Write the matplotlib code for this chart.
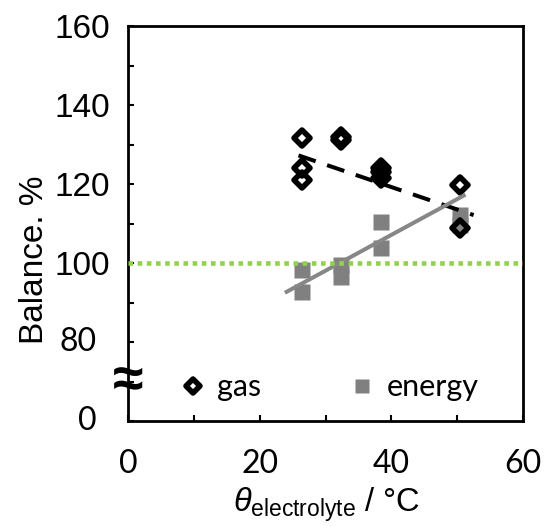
import numpy as np
import matplotlib.pyplot as plt
from matplotlib.markers import MarkerStyle

plt.rcParams['font.family'] = ['Liberation Sans', 'DejaVu Sans']
plt.rcParams['mathtext.fontset'] = 'custom'
plt.rcParams['mathtext.rm'] = 'Liberation Sans'
plt.rcParams['mathtext.it'] = 'Liberation Sans:italic'

# data
gas_temp = [26.4, 26.4, 26.4, 32.4, 32.4, 38.4, 38.4, 38.4, 50.5, 50.5]
gas_bal = [131.6, 124.1, 121.0, 131.9, 131.2, 124.0, 123.0, 121.5, 119.7, 108.9]
energy_temp = [26.4, 26.4, 32.4, 32.4, 38.4, 38.4, 50.5, 50.5]
energy_bal = [98.2, 92.7, 99.5, 96.5, 110.3, 103.9, 112.2, 109.5]

# trend lines as drawn (slope, intercept, x range)
gas_trend = (-0.568, 141.95, 25.9, 52.5)
energy_trend = (0.906, 70.87, 24.1, 51.0)

ref_level = 100
ytick_vals = [60, 70, 80, 90, 100, 110, 120, 130, 140, 150, 160]
ytick_text = {100: '100', 120: '120', 140: '140', 160: '160'}
xtick_vals = [0, 10, 20, 30, 40, 50, 60]
xtick_text = {0: '0', 20: '20', 40: '40', 60: '60'}

fig = plt.figure(figsize=(5.44, 5.28), dpi=100)
ax = fig.add_axes([128/544, 1-421/528, 395/544, 395/528])

ax.plot(energy_temp, energy_bal, linestyle='none', marker='s', ms=12.2,
        mfc='#808080', mec='none', label='energy', zorder=2)
dia = MarkerStyle('D', joinstyle='round')
ax.plot(gas_temp, gas_bal, linestyle='none', marker=dia, ms=8.3, mew=4,
        mfc='none', mec='black', label='gas', zorder=3)

def trend(p):
    m, b, x0, x1 = p
    xs = np.array([x0, x1])
    return xs, m*xs + b

xs, ys = trend(gas_trend)
ax.plot(xs, ys, color='black', lw=2.9, dashes=(4.5, 3), dash_capstyle='butt', zorder=4)
xs, ys = trend(energy_trend)
ax.plot(xs, ys, color='#878787', lw=2.9, zorder=4)

ax.axhline(ref_level, color='#92D050', lw=3.3, linestyle=(0, (1, 1)),
           dash_capstyle='butt', zorder=5)

ax.set_xlim(0, 60)
ax.set_ylim(60, 160)
ax.set_xticks(xtick_vals)
ax.set_xticklabels([xtick_text.get(v, '') for v in xtick_vals],
                   fontfamily='Lato', fontsize=23)
ax.set_yticks(ytick_vals)
ax.set_yticklabels([ytick_text.get(v, '') for v in ytick_vals], fontsize=24)
ax.tick_params(axis='y', direction='in', length=4, width=1.5, pad=13)
ax.tick_params(axis='x', direction='in', length=4, width=1.5, pad=20)
for s in ax.spines.values():
    s.set_linewidth(2)

# broken-axis labels
ytr = ax.get_yaxis_transform()
ax.text(-0.08, 80, '80', transform=ytr, ha='right', va='center',
        fontfamily='Lato', fontsize=23)
ax.text(-0.08, 60, '0', transform=ytr, ha='right', va='center',
        fontfamily='Lato', fontsize=23)
ax.text(0, 69.5, '\u2248', transform=ytr, ha='center', va='center',
        fontweight='bold', fontsize=40, clip_on=False)

h, l = ax.get_legend_handles_labels()
ax.legend(h[::-1], l[::-1], ncol=2, loc='center', bbox_to_anchor=(0.51, 0.085),
          frameon=False, prop={'family': 'Lato', 'size': 22}, handlelength=0.8,
          handletextpad=0.4, columnspacing=2.9, numpoints=1, markerscale=0.8)

fig.text(35/544, 1-260/528, 'Balance. %', rotation=90, ha='center', va='center',
         fontsize=24)
fig.text(327/544, 1-505/528, r'$\theta_{\mathregular{electrolyte}}$ / °C',
         ha='center', va='center', fontsize=23.5)

fig.savefig('out.png', dpi=100)
